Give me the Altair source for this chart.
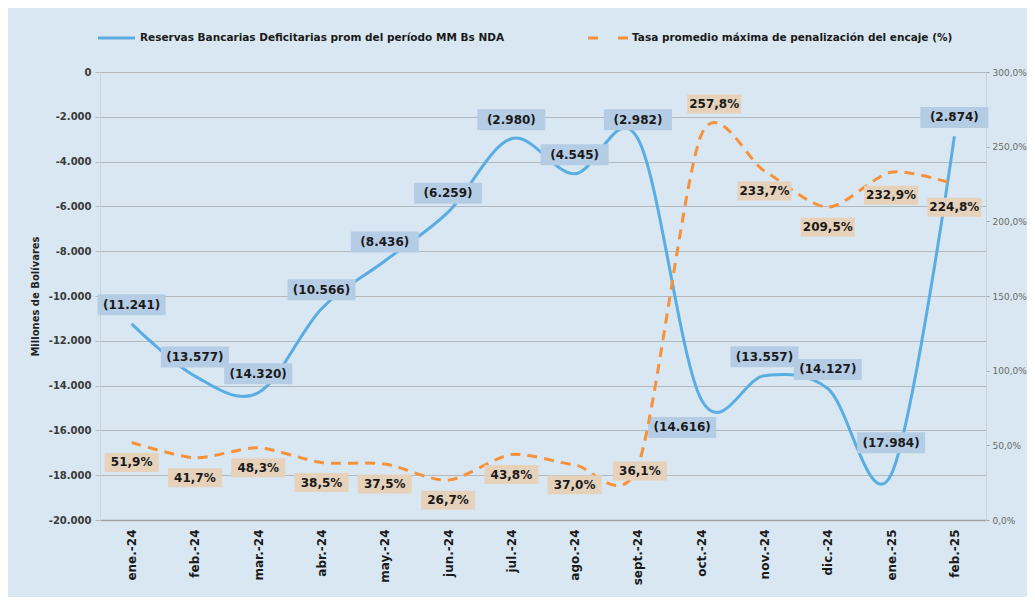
import altair as alt
import pandas as pd

months = ["ene.-24", "feb.-24", "mar.-24", "abr.-24", "may.-24", "jun.-24", "jul.-24",
          "ago.-24", "sept.-24", "oct.-24", "nov.-24", "dic.-24", "ene.-25", "feb.-25"]
reservas = [-11241, -13577, -14320, -10566, -8436, -6259, -2980,
            -4545, -2982, -14616, -13557, -14127, -17984, -2874]
tasa = [51.9, 41.7, 48.3, 38.5, 37.5, 26.7, 43.8,
        37.0, 36.1, 257.8, 233.7, 209.5, 232.9, 224.8]

legend_blue = "Reservas Bancarias Deficitarias prom del período MM Bs NDA"
legend_orange = "Tasa promedio máxima de penalización del encaje (%)"
y_title = "Millones de Bolívares"

BLUE = "#5aade3"
ORANGE = "#f7923a"
BG = "#d8e7f1"
BOX_BLUE = "#b5cce5"
BOX_ORANGE = "#e6d2bb"
GRID = "#b3b8bc"
FONT = "DejaVu Sans"

df = pd.DataFrame({"month": months, "reservas": reservas, "tasa": tasa})

base = alt.Chart(df).transform_calculate(
    blabel="'(' + replace(format(abs(datum.reservas), ','), ',', '.') + ')'",
    olabel="replace(format(datum.tasa, '.1f'), '.', ',') + '%'",
)

X = alt.X("month:N", sort=months, scale=alt.Scale(domain=months),
          axis=alt.Axis(title=None, labelAngle=270, labelFont=FONT, labelFontSize=12,
                        labelFontWeight="bold", labelColor="#1a1a1a", ticks=False,
                        labelPadding=9, domainColor="#9ea4a8", domainWidth=1.5))

left_scale = alt.Scale(domain=[-20000, 0], nice=False)
right_scale = alt.Scale(domain=[0, 300], nice=False)

left_axis = alt.Axis(
    orient="left", values=list(range(-20000, 1, 2000)),
    labelExpr="(datum.value < 0 ? '-' : '') + replace(format(abs(datum.value), ','), ',', '.')",
    grid=True, gridColor=GRID, gridWidth=1, domainColor="#c9d3da", tickColor=GRID, tickSize=5,
    labelFont=FONT, labelFontSize=10, labelFontWeight="bold", labelColor="#3a3a3a", labelPadding=4,
    title=y_title, titleFont=FONT, titleFontSize=10, titleFontWeight="bold", titleColor="#222",
    titlePadding=8,
)
right_axis = alt.Axis(
    orient="right", values=list(range(0, 301, 50)),
    labelExpr="replace(format(datum.value, '.1f'), '.', ',') + '%'",
    grid=False, domainColor="#c9d3da", tickColor="#9ea4a8", tickSize=3,
    labelFont=FONT, labelFontSize=9, labelColor="#6a6a6a", labelPadding=3, title=None,
)


def labels(field, text_field, scale, axis, fill, sel, dx, dy, w, h, exclude=False):
    k = 50.0
    x0, x1 = (dx - w / 2) / k, (dx + w / 2) / k
    y0, y1 = (dy - h / 2) / k, (dy + h / 2) / k
    path = f"M{x0:.3f},{y0:.3f}L{x1:.3f},{y0:.3f}L{x1:.3f},{y1:.3f}L{x0:.3f},{y1:.3f}Z"
    arr = "[" + ",".join(f"'{m}'" for m in sel) + "]"
    cond = f"indexof({arr}, datum.month) {'<' if exclude else '>='} 0"
    b = base.transform_filter(cond)
    Y = alt.Y(field, scale=scale, axis=axis)
    box = b.mark_point(shape=path, size=10000, filled=True, fill=fill, opacity=1,
                       strokeWidth=0).encode(x=X, y=Y)
    txt = b.mark_text(dx=dx, dy=dy, font=FONT, fontSize=12, fontWeight="bold",
                      color="#1a1a1a").encode(x=X, y=Y, text=f"{text_field}:N")
    return [box, txt]


blue_line = base.mark_line(interpolate="cardinal", color=BLUE, strokeWidth=3).encode(
    x=X, y=alt.Y("reservas:Q", scale=left_scale, axis=left_axis))

blue_special = ["oct.-24", "ene.-25"]
blue_layers = [blue_line]
blue_layers += labels("reservas:Q", "blabel", left_scale, left_axis, BOX_BLUE, blue_special, 0, -19, 68, 21, exclude=True)
blue_layers += labels("reservas:Q", "blabel", left_scale, left_axis, BOX_BLUE, ["oct.-24"], -19, 28, 68, 21)
blue_layers += labels("reservas:Q", "blabel", left_scale, left_axis, BOX_BLUE, ["ene.-25"], 0, -32, 68, 21)
blue_group = alt.layer(*blue_layers)

orange_line = base.mark_line(interpolate="cardinal", tension=0.2, color=ORANGE, strokeWidth=3,
                             strokeDash=[10, 7]).encode(
    x=X, y=alt.Y("tasa:Q", scale=right_scale, axis=right_axis))

orange_special = ["oct.-24", "sept.-24", "ene.-25", "feb.-25"]
orange_layers = [orange_line]
orange_layers += labels("tasa:Q", "olabel", right_scale, right_axis, BOX_ORANGE, orange_special, 0, 20, 54, 19, exclude=True)
orange_layers += labels("tasa:Q", "olabel", right_scale, right_axis, BOX_ORANGE, ["oct.-24"], 13, -31, 54, 19)
orange_layers += labels("tasa:Q", "olabel", right_scale, right_axis, BOX_ORANGE, ["sept.-24"], 2, 5, 54, 19)
orange_layers += labels("tasa:Q", "olabel", right_scale, right_axis, BOX_ORANGE, ["ene.-25", "feb.-25"], 0, 23, 54, 19)
orange_group = alt.layer(*orange_layers)

leg_df = pd.DataFrame({"t": [legend_blue]})
leg_df2 = pd.DataFrame({"t": [legend_orange]})
leg1 = alt.Chart(leg_df).mark_rule(color=BLUE, strokeWidth=3).encode(
    x=alt.value(-2), x2=alt.value(35), y=alt.value(-34))
leg1t = alt.Chart(leg_df).mark_text(align="left", baseline="middle", font=FONT, fontSize=10.5,
                                    fontWeight="bold", color="#1a1a1a").encode(
    x=alt.value(40), y=alt.value(-34), text="t:N")
leg2 = alt.Chart(leg_df2).mark_rule(color=ORANGE, strokeWidth=3, strokeDash=[10, 20]).encode(
    x=alt.value(488), x2=alt.value(528), y=alt.value(-34))
leg2t = alt.Chart(leg_df2).mark_text(align="left", baseline="middle", font=FONT, fontSize=10.5,
                                     fontWeight="bold", color="#1a1a1a").encode(
    x=alt.value(532), y=alt.value(-34), text="t:N")

chart = alt.layer(blue_group, orange_group, leg1, leg1t, leg2, leg2t).resolve_scale(
    y="independent"
).properties(
    width=886, height=448,
    autosize=alt.AutoSizeParams(type="none"),
    padding={"left": 92, "top": 64, "right": 41, "bottom": 77},
    background=BG,
).configure_view(stroke=None)

chart.save("out.html", embed_options={"renderer": "svg", "actions": False})
